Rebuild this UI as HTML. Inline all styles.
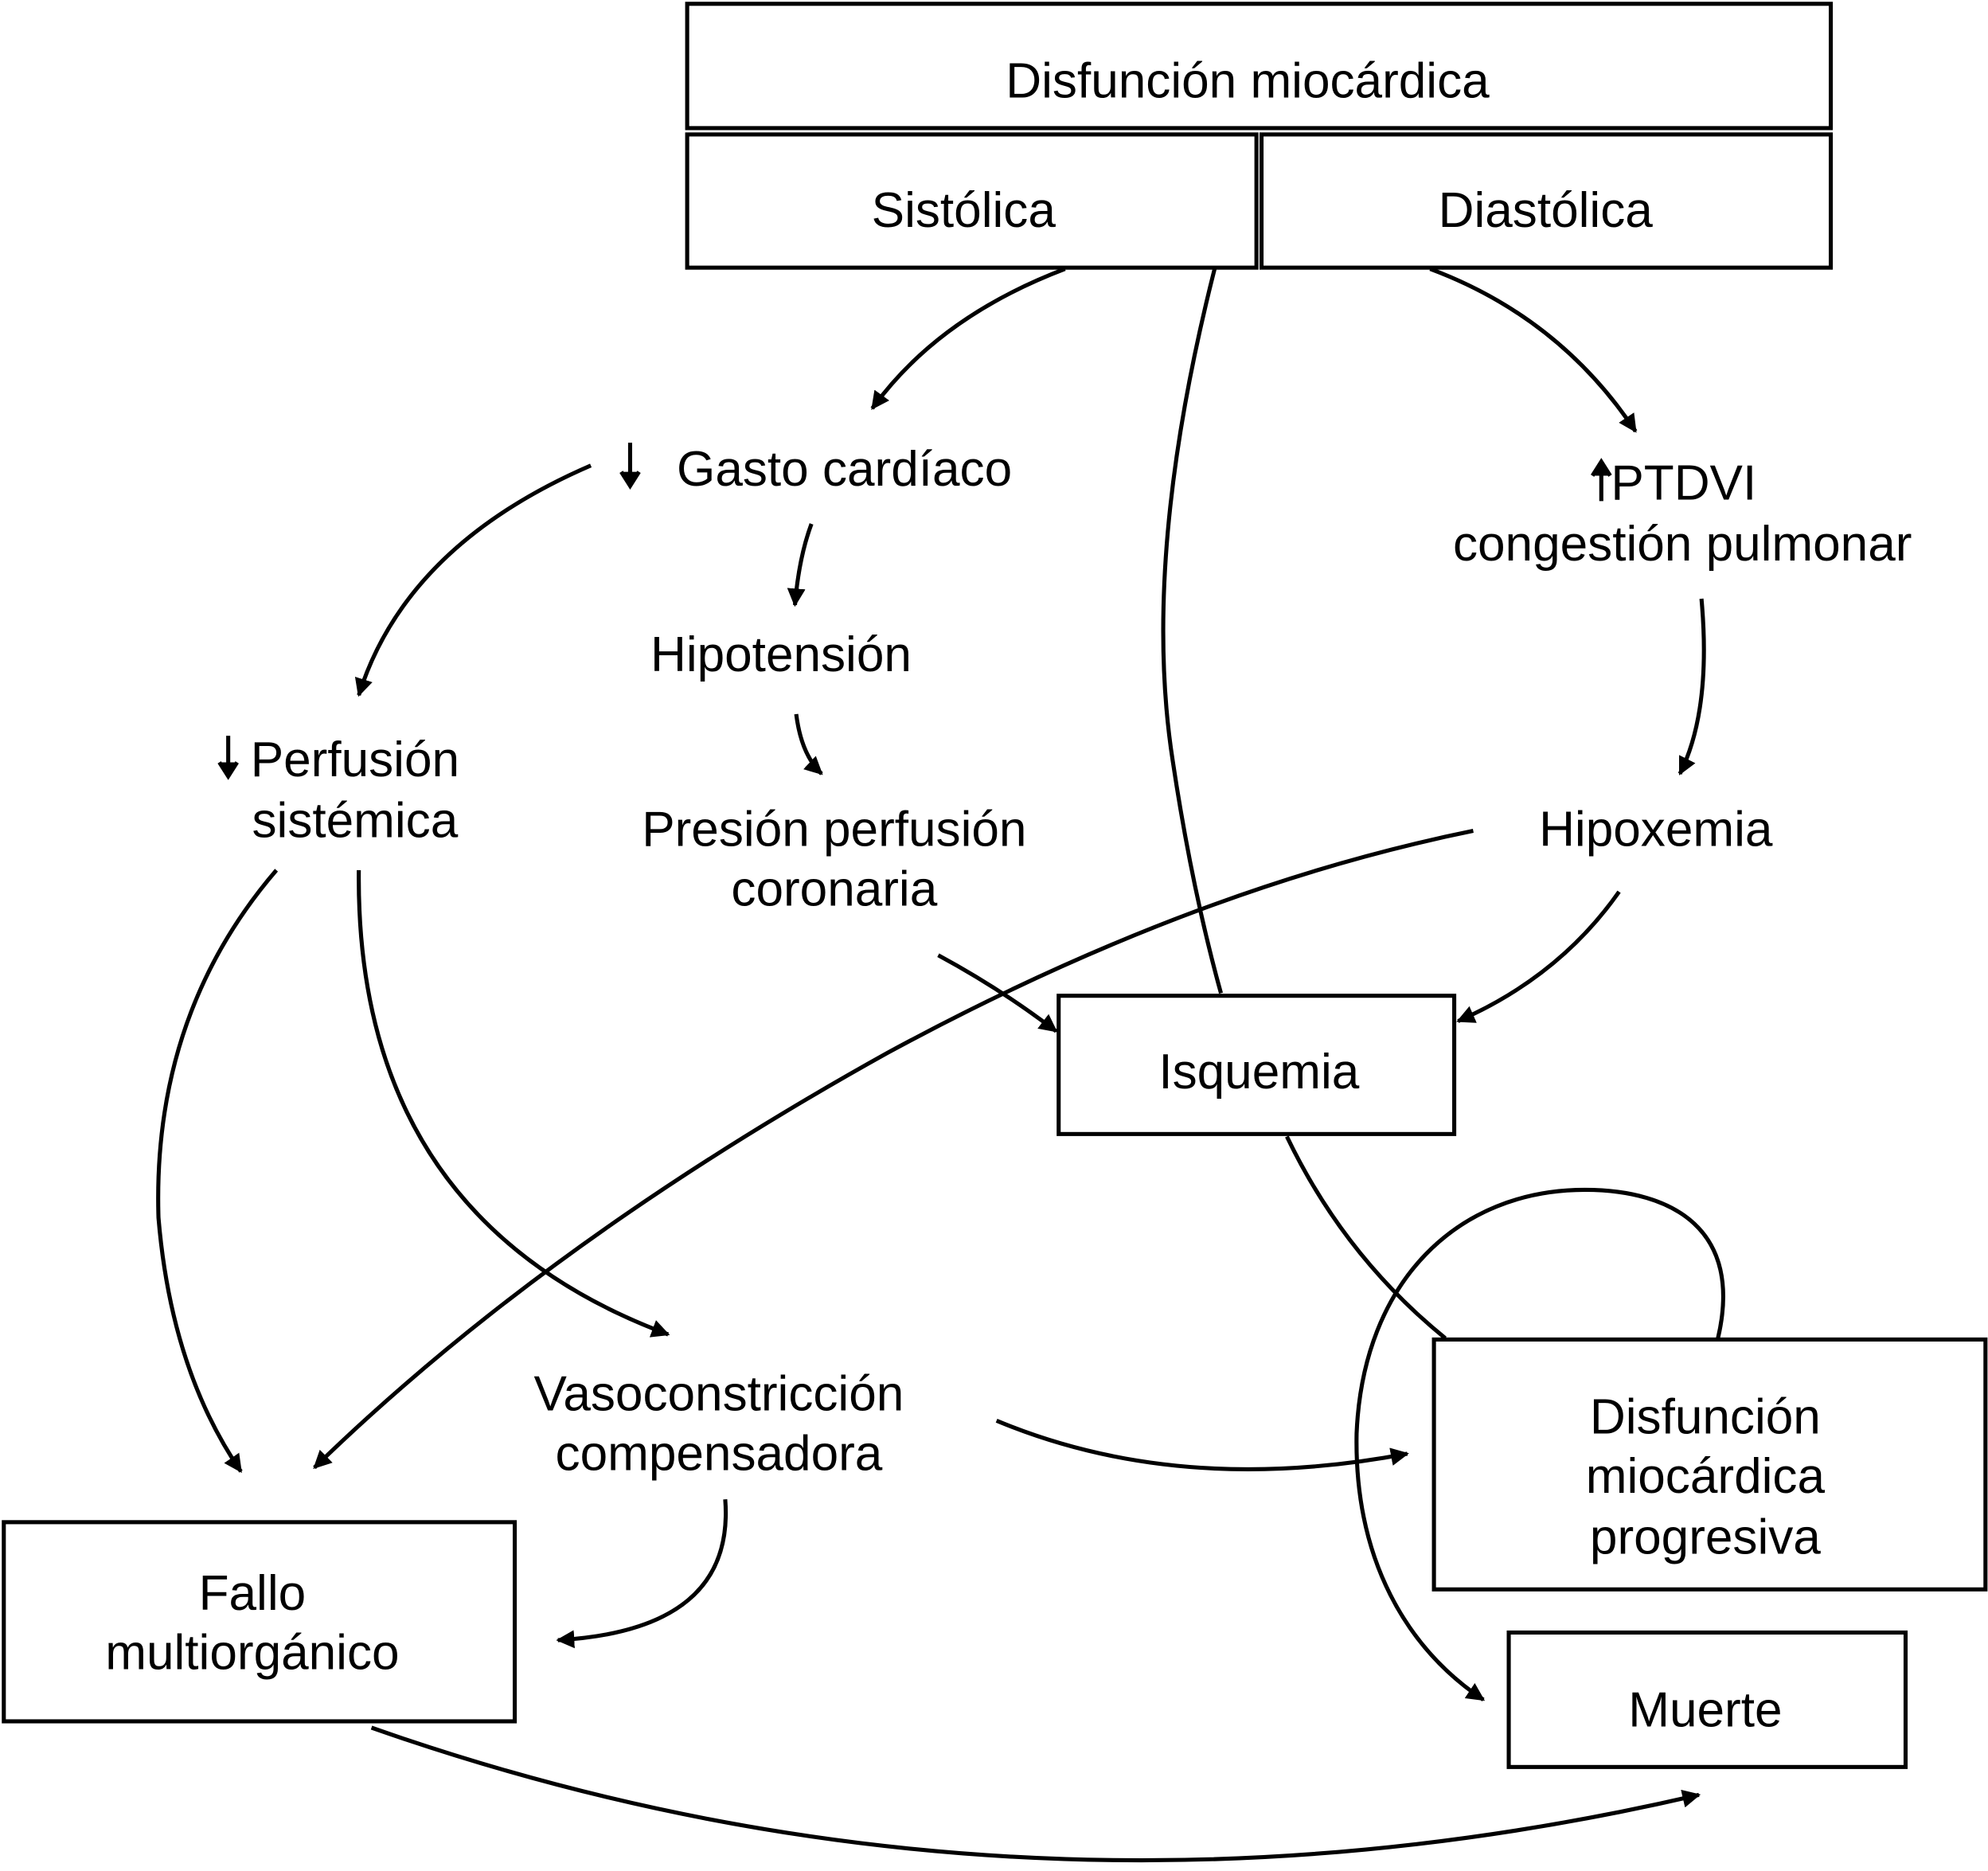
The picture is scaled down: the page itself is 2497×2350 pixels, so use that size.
<!DOCTYPE html>
<html><head><meta charset="utf-8"><style>
html,body{margin:0;padding:0;background:#fff;}
svg{display:block;}
text{font-family:"Liberation Sans",Arial,sans-serif;font-size:39px;fill:#000;text-anchor:middle;}
</style></head><body>
<svg width="2497" height="2350" viewBox="0 0 1568 1475" preserveAspectRatio="none" xmlns="http://www.w3.org/2000/svg">
<defs>
<marker id="a" viewBox="0 0 10 10" refX="9" refY="5" markerWidth="4.5" markerHeight="4.5" orient="auto" markerUnits="strokeWidth">
<path d="M0,0 L10,5 L0,10 z" fill="#000"/></marker>
</defs>
<g fill="none" stroke="#000" stroke-width="3.2">
<rect x="542" y="3" width="902" height="98"/>
<rect x="542" y="106" width="449" height="105"/>
<rect x="995" y="106" width="449" height="105"/>
<rect x="835" y="785" width="312" height="109"/>
<rect x="1131" y="1056" width="435" height="197"/>
<rect x="1190" y="1287" width="313" height="106"/>
<rect x="3" y="1200" width="403" height="157"/>

<path d="M840,212 Q740,250 688,322" marker-end="url(#a)"/>
<path d="M958,212 Q900,440 925,600 Q940,700 963,783"/>
<path d="M1128,212 Q1230,250 1290,340" marker-end="url(#a)"/>
<path d="M466,367 Q320,430 283,548" marker-end="url(#a)"/>
<path d="M640,413 Q630,440 627,477" marker-end="url(#a)"/>
<path d="M628,563 Q632,595 648,610" marker-end="url(#a)"/>
<path d="M740,753 Q790,780 833,813" marker-end="url(#a)"/>
<path d="M1342,472 Q1350,560 1325,610" marker-end="url(#a)"/>
<path d="M1277,703 Q1230,770 1150,805" marker-end="url(#a)"/>
<path d="M1162,655 Q940,700 700,830 Q430,980 248,1157" marker-end="url(#a)"/>
<path d="M218,686 Q120,800 125,960 Q135,1080 190,1160" marker-end="url(#a)"/>
<path d="M283,686 Q280,960 527,1052" marker-end="url(#a)"/>
<path d="M786,1120 Q930,1180 1110,1146" marker-end="url(#a)"/>
<path d="M572,1182 Q580,1285 440,1293" marker-end="url(#a)"/>
<path d="M293,1362 Q800,1540 1340,1415" marker-end="url(#a)"/>
<path d="M1015,896 Q1060,990 1140,1055"/>
<path d="M1355,1055 C1375,970 1320,938 1250,938 C1150,938 1075,1010 1070,1130 C1068,1230 1110,1300 1170,1340" marker-end="url(#a)"/>

<path d="M497,349 L497,381" /><path d="M490,372 L497,383 L504,372" fill="#000"/>
<path d="M180,580 L180,610" /><path d="M173,601 L180,612 L187,601" fill="#000"/>
<path d="M1263,395 L1263,366" /><path d="M1256,375 L1263,364 L1270,375" fill="#000"/>
</g>
<text x="984" y="77">Disfunción miocárdica</text>
<text x="760" y="179">Sistólica</text>
<text x="1219" y="179">Diastólica</text>
<text x="666" y="383">Gasto cardíaco</text>
<text x="1328" y="394">PTDVI</text>
<text x="1327" y="442">congestión pulmonar</text>
<text x="616" y="529">Hipotensión</text>
<text x="280" y="612">Perfusión</text>
<text x="280" y="660">sistémica</text>
<text x="658" y="667">Presión perfusión</text>
<text x="658" y="714">coronaria</text>
<text x="1306" y="667">Hipoxemia</text>
<text x="993" y="858">Isquemia</text>
<text x="567" y="1112">Vasoconstricción</text>
<text x="567" y="1159">compensadora</text>
<text x="1345" y="1130">Disfunción</text>
<text x="1345" y="1177">miocárdica</text>
<text x="1345" y="1225">progresiva</text>
<text x="1345" y="1361">Muerte</text>
<text x="199" y="1269">Fallo</text>
<text x="199" y="1316">multiorgánico</text>
</svg>
</body></html>
